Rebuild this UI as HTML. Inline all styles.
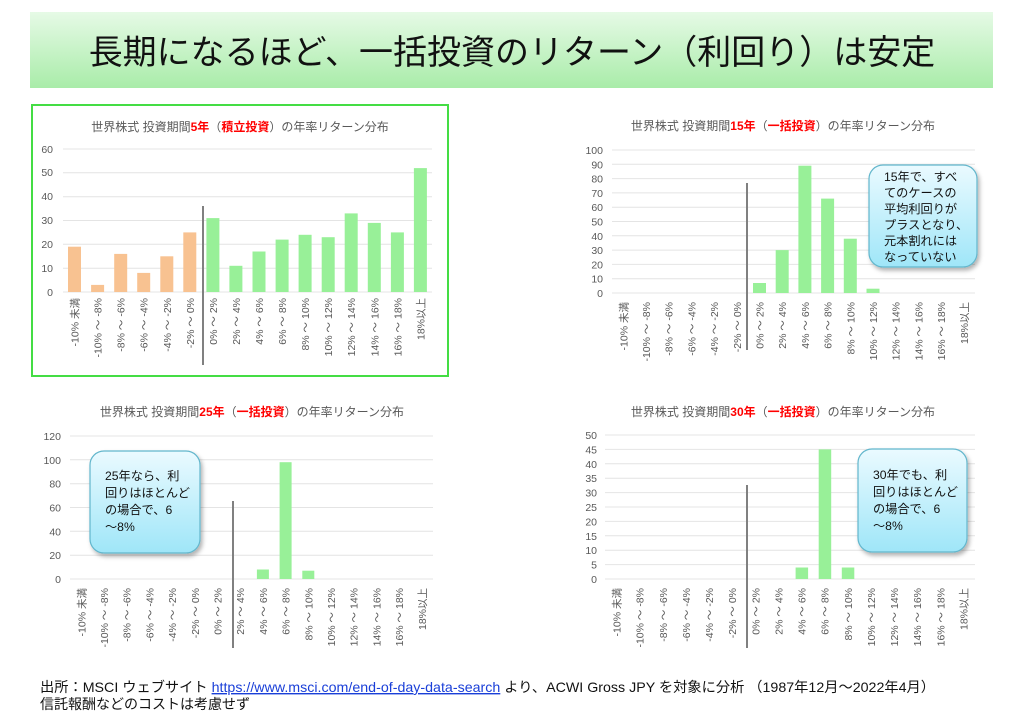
<!DOCTYPE html>
<html><head><meta charset="utf-8"><style>
body{margin:0;background:#fff}
svg{display:block;font-family:"Liberation Sans","Noto Sans CJK JP",sans-serif}
.gl{stroke:#e4e4e4;stroke-width:1}
.yl{font-size:10.5px;fill:#595959;text-anchor:end}
.xl{font-size:10.5px;fill:#595959;text-anchor:end}
.ct{font-size:12px;fill:#595959;text-anchor:middle}
.r{fill:#ff0000;font-weight:bold}
.g{fill:#98f098}.o{fill:#f8c291}
.dv{stroke:#808080;stroke-width:2}
.co{font-size:12.2px;fill:#111}
</style></head><body>
<svg width="1024" height="716" viewBox="0 0 1024 716">
<defs>
<linearGradient id="bn" x1="0" y1="0" x2="0" y2="1"><stop offset="0" stop-color="#e6fae6"/><stop offset="1" stop-color="#a9eca9"/></linearGradient>
<linearGradient id="cb" x1="0" y1="0" x2="0" y2="1"><stop offset="0" stop-color="#eafaff"/><stop offset="1" stop-color="#9fe6f8"/></linearGradient>
<filter id="sh" x="-20%" y="-20%" width="140%" height="140%"><feDropShadow dx="2" dy="3" stdDeviation="2" flood-color="#000" flood-opacity="0.3"/></filter>
</defs>
<rect x="30" y="12" width="963" height="76" fill="url(#bn)"/>
<text x="512" y="64" font-size="34" text-anchor="middle" fill="#111">長期になるほど、一括投資のリターン（利回り）は安定</text>

<!-- Chart 1 -->
<rect x="32" y="105" width="416" height="271" fill="none" stroke="#44dd44" stroke-width="2"/>
<text class="ct" x="240" y="131">世界株式  投資期間<tspan class="r">5年</tspan>（<tspan class="r">積立投資</tspan>）の年率リターン分布</text>
<g class="gl"><line x1="63" x2="432" y1="292" y2="292"/><line x1="63" x2="432" y1="268.2" y2="268.2"/><line x1="63" x2="432" y1="244.3" y2="244.3"/><line x1="63" x2="432" y1="220.5" y2="220.5"/><line x1="63" x2="432" y1="196.7" y2="196.7"/><line x1="63" x2="432" y1="172.8" y2="172.8"/><line x1="63" x2="432" y1="149" y2="149"/></g>
<g class="yl"><text x="53" y="296">0</text><text x="53" y="272">10</text><text x="53" y="248">20</text><text x="53" y="224">30</text><text x="53" y="200">40</text><text x="53" y="176">50</text><text x="53" y="153">60</text></g>
<g>
<rect class="o" x="68" y="246.7" width="13" height="45.3"/>
<rect class="o" x="91.1" y="284.9" width="13" height="7.1"/>
<rect class="o" x="114.2" y="253.9" width="13" height="38.1"/>
<rect class="o" x="137.2" y="272.9" width="13" height="19.1"/>
<rect class="o" x="160.3" y="256.3" width="13" height="35.7"/>
<rect class="o" x="183.3" y="232.4" width="13" height="59.6"/>
<rect class="g" x="206.4" y="218.1" width="13" height="73.9"/>
<rect class="g" x="229.4" y="265.8" width="13" height="26.2"/>
<rect class="g" x="252.5" y="251.5" width="13" height="40.5"/>
<rect class="g" x="275.6" y="239.6" width="13" height="52.4"/>
<rect class="g" x="298.6" y="234.8" width="13" height="57.2"/>
<rect class="g" x="321.7" y="237.2" width="13" height="54.8"/>
<rect class="g" x="344.7" y="213.4" width="13" height="78.6"/>
<rect class="g" x="367.8" y="222.9" width="13" height="69.1"/>
<rect class="g" x="390.9" y="232.4" width="13" height="59.6"/>
<rect class="g" x="413.9" y="168.1" width="13" height="123.9"/>
</g>
<line class="dv" x1="203" y1="206" x2="203" y2="365"/>
<g class="xl">
<text transform="translate(78.5,298) rotate(-90)">-10% 未満</text>
<text transform="translate(101.6,298) rotate(-90)">-10% ～ -8%</text>
<text transform="translate(124.7,298) rotate(-90)">-8% ～ -6%</text>
<text transform="translate(147.7,298) rotate(-90)">-6% ～ -4%</text>
<text transform="translate(170.8,298) rotate(-90)">-4% ～ -2%</text>
<text transform="translate(193.8,298) rotate(-90)">-2% ～ 0%</text>
<text transform="translate(216.9,298) rotate(-90)">0% ～ 2%</text>
<text transform="translate(239.9,298) rotate(-90)">2% ～ 4%</text>
<text transform="translate(263,298) rotate(-90)">4% ～ 6%</text>
<text transform="translate(286.1,298) rotate(-90)">6% ～ 8%</text>
<text transform="translate(309.1,298) rotate(-90)">8% ～ 10%</text>
<text transform="translate(332.2,298) rotate(-90)">10% ～ 12%</text>
<text transform="translate(355.2,298) rotate(-90)">12% ～ 14%</text>
<text transform="translate(378.3,298) rotate(-90)">14% ～ 16%</text>
<text transform="translate(401.4,298) rotate(-90)">16% ～ 18%</text>
<text transform="translate(424.4,298) rotate(-90)">18%以上</text>
</g>

<!-- Chart 2 -->
<text class="ct" x="783" y="130">世界株式  投資期間<tspan class="r">15年</tspan>（<tspan class="r">一括投資</tspan>）の年率リターン分布</text>
<g class="gl"><line x1="612" x2="975" y1="293" y2="293"/><line x1="612" x2="975" y1="278.7" y2="278.7"/><line x1="612" x2="975" y1="264.4" y2="264.4"/><line x1="612" x2="975" y1="250.1" y2="250.1"/><line x1="612" x2="975" y1="235.8" y2="235.8"/><line x1="612" x2="975" y1="221.5" y2="221.5"/><line x1="612" x2="975" y1="207.2" y2="207.2"/><line x1="612" x2="975" y1="192.9" y2="192.9"/><line x1="612" x2="975" y1="178.6" y2="178.6"/><line x1="612" x2="975" y1="164.3" y2="164.3"/><line x1="612" x2="975" y1="150" y2="150"/></g>
<g class="yl"><text x="603" y="297">0</text><text x="603" y="282.7">10</text><text x="603" y="268.4">20</text><text x="603" y="254.1">30</text><text x="603" y="239.8">40</text><text x="603" y="225.5">50</text><text x="603" y="211.2">60</text><text x="603" y="196.9">70</text><text x="603" y="182.6">80</text><text x="603" y="168.3">90</text><text x="603" y="154">100</text></g>
<rect class="g" x="753" y="283" width="13" height="10"/>
<rect class="g" x="775.7" y="250.1" width="13" height="42.9"/>
<rect class="g" x="798.4" y="165.7" width="13" height="127.3"/>
<rect class="g" x="821.1" y="198.6" width="13" height="94.4"/>
<rect class="g" x="843.8" y="238.7" width="13" height="54.3"/>
<rect class="g" x="866.5" y="288.7" width="13" height="4.3"/>
<line class="dv" x1="747" y1="183" x2="747" y2="350"/>
<g class="xl">
<text transform="translate(627.3,302) rotate(-90)">-10% 未満</text>
<text transform="translate(650,302) rotate(-90)">-10% ～ -8%</text>
<text transform="translate(672.7,302) rotate(-90)">-8% ～ -6%</text>
<text transform="translate(695.4,302) rotate(-90)">-6% ～ -4%</text>
<text transform="translate(718.1,302) rotate(-90)">-4% ～ -2%</text>
<text transform="translate(740.8,302) rotate(-90)">-2% ～ 0%</text>
<text transform="translate(763.5,302) rotate(-90)">0% ～ 2%</text>
<text transform="translate(786.2,302) rotate(-90)">2% ～ 4%</text>
<text transform="translate(808.9,302) rotate(-90)">4% ～ 6%</text>
<text transform="translate(831.6,302) rotate(-90)">6% ～ 8%</text>
<text transform="translate(854.3,302) rotate(-90)">8% ～ 10%</text>
<text transform="translate(877,302) rotate(-90)">10% ～ 12%</text>
<text transform="translate(899.7,302) rotate(-90)">12% ～ 14%</text>
<text transform="translate(922.4,302) rotate(-90)">14% ～ 16%</text>
<text transform="translate(945.1,302) rotate(-90)">16% ～ 18%</text>
<text transform="translate(967.8,302) rotate(-90)">18%以上</text>
</g>
<rect x="869" y="165" width="108" height="102" rx="14" fill="url(#cb)" stroke="#62b6cc" stroke-width="1.2" filter="url(#sh)"/>
<g class="co"><text x="884" y="181">15年で、すべ</text><text x="884" y="197">てのケースの</text><text x="884" y="213">平均利回りが</text><text x="884" y="229">プラスとなり、</text><text x="884" y="245">元本割れには</text><text x="884" y="261">なっていない</text></g>

<!-- Chart 3 -->
<text class="ct" x="252" y="416">世界株式  投資期間<tspan class="r">25年</tspan>（<tspan class="r">一括投資</tspan>）の年率リターン分布</text>
<g class="gl"><line x1="70" x2="433" y1="579" y2="579"/><line x1="70" x2="433" y1="555.2" y2="555.2"/><line x1="70" x2="433" y1="531.3" y2="531.3"/><line x1="70" x2="433" y1="507.5" y2="507.5"/><line x1="70" x2="433" y1="483.7" y2="483.7"/><line x1="70" x2="433" y1="459.8" y2="459.8"/><line x1="70" x2="433" y1="436" y2="436"/></g>
<g class="yl"><text x="61" y="583">0</text><text x="61" y="559.2">20</text><text x="61" y="535.3">40</text><text x="61" y="511.5">60</text><text x="61" y="487.7">80</text><text x="61" y="463.8">100</text><text x="61" y="440">120</text></g>
<rect class="g" x="256.9" y="569.5" width="12" height="9.5"/>
<rect class="g" x="279.6" y="462.2" width="12" height="116.8"/>
<rect class="g" x="302.3" y="570.7" width="12" height="8.3"/>
<line class="dv" x1="233" y1="501" x2="233" y2="648"/>
<g class="xl">
<text transform="translate(85.3,588) rotate(-90)">-10% 未満</text>
<text transform="translate(108,588) rotate(-90)">-10% ～ -8%</text>
<text transform="translate(130.7,588) rotate(-90)">-8% ～ -6%</text>
<text transform="translate(153.4,588) rotate(-90)">-6% ～ -4%</text>
<text transform="translate(176.1,588) rotate(-90)">-4% ～ -2%</text>
<text transform="translate(198.8,588) rotate(-90)">-2% ～ 0%</text>
<text transform="translate(221.5,588) rotate(-90)">0% ～ 2%</text>
<text transform="translate(244.2,588) rotate(-90)">2% ～ 4%</text>
<text transform="translate(266.9,588) rotate(-90)">4% ～ 6%</text>
<text transform="translate(289.6,588) rotate(-90)">6% ～ 8%</text>
<text transform="translate(312.3,588) rotate(-90)">8% ～ 10%</text>
<text transform="translate(335,588) rotate(-90)">10% ～ 12%</text>
<text transform="translate(357.7,588) rotate(-90)">12% ～ 14%</text>
<text transform="translate(380.4,588) rotate(-90)">14% ～ 16%</text>
<text transform="translate(403.1,588) rotate(-90)">16% ～ 18%</text>
<text transform="translate(425.8,588) rotate(-90)">18%以上</text>
</g>
<rect x="90" y="451" width="110" height="102" rx="14" fill="url(#cb)" stroke="#62b6cc" stroke-width="1.2" filter="url(#sh)"/>
<g class="co"><text x="105" y="480">25年なら、利</text><text x="105" y="497">回りはほとんど</text><text x="105" y="514">の場合で、6</text><text x="105" y="531">～8%</text></g>

<!-- Chart 4 -->
<text class="ct" x="783" y="416">世界株式  投資期間<tspan class="r">30年</tspan>（<tspan class="r">一括投資</tspan>）の年率リターン分布</text>
<g class="gl"><line x1="605" x2="975" y1="579" y2="579"/><line x1="605" x2="975" y1="564.6" y2="564.6"/><line x1="605" x2="975" y1="550.2" y2="550.2"/><line x1="605" x2="975" y1="535.8" y2="535.8"/><line x1="605" x2="975" y1="521.4" y2="521.4"/><line x1="605" x2="975" y1="507" y2="507"/><line x1="605" x2="975" y1="492.6" y2="492.6"/><line x1="605" x2="975" y1="478.2" y2="478.2"/><line x1="605" x2="975" y1="463.8" y2="463.8"/><line x1="605" x2="975" y1="449.4" y2="449.4"/><line x1="605" x2="975" y1="435" y2="435"/></g>
<g class="yl"><text x="597" y="583">0</text><text x="597" y="568.6">5</text><text x="597" y="554.2">10</text><text x="597" y="539.8">15</text><text x="597" y="525.4">20</text><text x="597" y="511">25</text><text x="597" y="496.6">30</text><text x="597" y="482.2">35</text><text x="597" y="467.8">40</text><text x="597" y="453.4">45</text><text x="597" y="439">50</text></g>
<rect class="g" x="795.6" y="567.5" width="12.5" height="11.5"/>
<rect class="g" x="818.7" y="449.4" width="12.5" height="129.6"/>
<rect class="g" x="841.8" y="567.5" width="12.5" height="11.5"/>
<line class="dv" x1="747" y1="485" x2="747" y2="648"/>
<g class="xl">
<text transform="translate(620.6,588) rotate(-90)">-10% 未満</text>
<text transform="translate(643.7,588) rotate(-90)">-10% ～ -8%</text>
<text transform="translate(666.8,588) rotate(-90)">-8% ～ -6%</text>
<text transform="translate(689.9,588) rotate(-90)">-6% ～ -4%</text>
<text transform="translate(713.1,588) rotate(-90)">-4% ～ -2%</text>
<text transform="translate(736.2,588) rotate(-90)">-2% ～ 0%</text>
<text transform="translate(759.3,588) rotate(-90)">0% ～ 2%</text>
<text transform="translate(782.4,588) rotate(-90)">2% ～ 4%</text>
<text transform="translate(805.6,588) rotate(-90)">4% ～ 6%</text>
<text transform="translate(828.7,588) rotate(-90)">6% ～ 8%</text>
<text transform="translate(851.8,588) rotate(-90)">8% ～ 10%</text>
<text transform="translate(874.9,588) rotate(-90)">10% ～ 12%</text>
<text transform="translate(898.1,588) rotate(-90)">12% ～ 14%</text>
<text transform="translate(921.2,588) rotate(-90)">14% ～ 16%</text>
<text transform="translate(944.3,588) rotate(-90)">16% ～ 18%</text>
<text transform="translate(967.4,588) rotate(-90)">18%以上</text>
</g>
<rect x="858" y="449" width="109" height="103" rx="14" fill="url(#cb)" stroke="#62b6cc" stroke-width="1.2" filter="url(#sh)"/>
<g class="co"><text x="873" y="479">30年でも、利</text><text x="873" y="496">回りはほとんど</text><text x="873" y="513">の場合で、6</text><text x="873" y="530">～8%</text></g>

<!-- footer -->
<text x="40" y="692" font-size="14" fill="#111" textLength="895" lengthAdjust="spacingAndGlyphs">出所：MSCI ウェブサイト <tspan fill="#1a3fd8" text-decoration="underline">https://www.msci.com/end-of-day-data-search</tspan> より、ACWI Gross JPY を対象に分析  （1987年12月～2022年4月）</text>
<text x="40" y="709" font-size="14" fill="#111">信託報酬などのコストは考慮せず</text>
</svg>
</body></html>
